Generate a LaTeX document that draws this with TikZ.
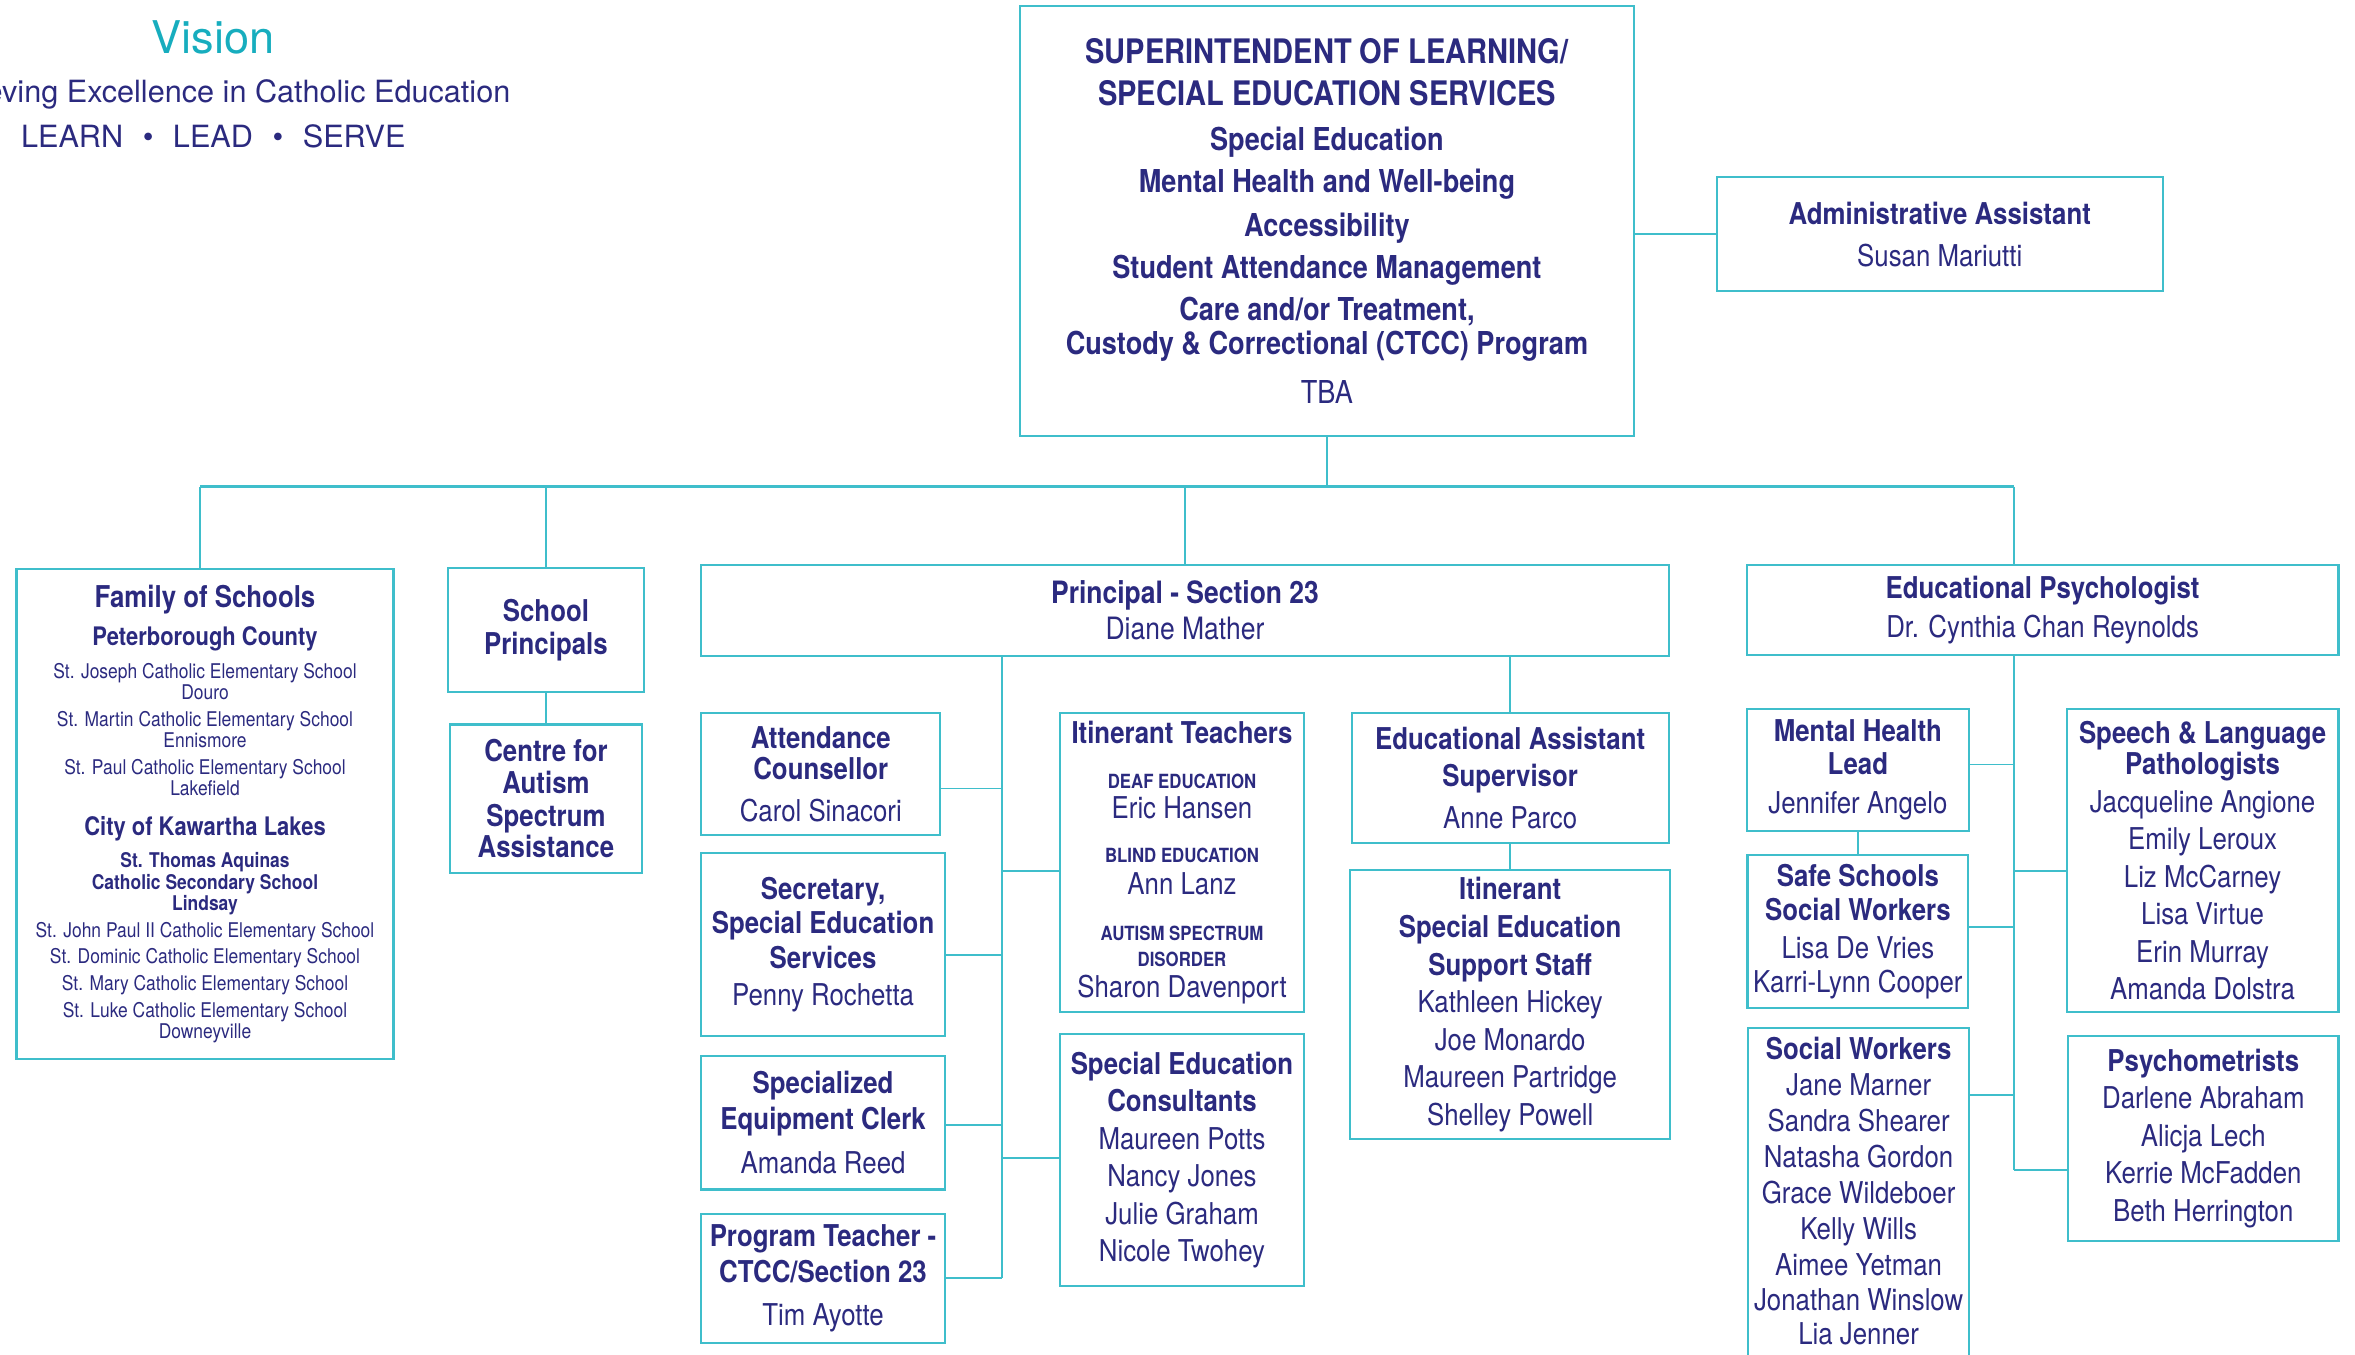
\documentclass[tikz,border=0pt]{standalone}
\usepackage{fontspec}
\setmainfont{TeX Gyre Heros}[FakeStretch=0.86]
\newfontfamily\visfont{TeX Gyre Heros}
\usetikzlibrary{positioning}
\definecolor{navy}{HTML}{2B2A7F}
\definecolor{lineC}{HTML}{3FBECB}
\definecolor{visC}{HTML}{17ADBE}
\newcommand\hd{\bfseries}
\newcommand\szf[2]{\fontsize{#1}{#2}\selectfont}

\begin{document}
\begin{tikzpicture}[x=1pt, y=-1pt,
        box/.style={draw=lineC, line width=1.4pt, inner sep=0pt, align=center, text=navy, font=\fontsize{20}{25}\selectfont},
        e/.style={draw=lineC, line width=1.2pt},
        bus/.style={draw=lineC, line width=1.8pt}]
        \useasboundingbox (0,0) rectangle (1568,902);

        % vision
        \node[text=visC, font=\visfont\fontsize{30}{30}\selectfont] (vis) at (142,25) {Vision};
        \node[text=navy, font=\visfont\fontsize{20.4}{21}\selectfont, anchor=east, inner sep=0pt] (mot) at (340,63) {Achieving Excellence in Catholic Education};
        \node[text=navy, font=\visfont\fontsize{20.4}{21}\selectfont] (lls) at (142,91) {LEARN\hspace{13pt}\textbullet\hspace{13pt}LEAD\hspace{13pt}\textbullet\hspace{13pt}SERVE};

        % top
        \node[box, minimum width=409pt, minimum height=286pt, font=\fontsize{21}{28}\selectfont] (sup) at (883.5,147) {
            \szf{22.5}{28}\hd SUPERINTENDENT OF LEARNING/\\
            \szf{22.5}{28}\hd SPECIAL EDUCATION SERVICES\\[2pt]
            \hd Special Education\\
            \hd Mental Health and Well-being\\[1pt]
            \hd Accessibility\\
            \hd Student Attendance Management\\
            \hd Care and/or Treatment,\\[-5pt]
            \hd Custody \& Correctional (CTCC) Program\\[4pt]
            TBA};
        \node[box, minimum width=297pt, minimum height=76pt] (adm) at (1291.5,156) {\hd Administrative Assistant\\[3pt] Susan Mariutti};

        % second row
        \node[box, minimum width=251pt, minimum height=326pt, font=\fontsize{13.5}{25}\selectfont] (fam) at (136.5,542) {
            \szf{20}{25}\hd Family of Schools\\
            \szf{17}{25}\hd Peterborough County\\[-3pt]
            St. Joseph Catholic Elementary School\\[-11pt]
            Douro\\[-7pt]
            St. Martin Catholic Elementary School\\[-11pt]
            Ennismore\\[-7pt]
            St. Paul Catholic Elementary School\\[-11pt]
            Lakefield\\[2pt]
            \szf{17}{25}\hd City of Kawartha Lakes\\[-4pt]
            \hd St. Thomas Aquinas\\[-10pt]
            \hd Catholic Secondary School\\[-11pt]
            \hd Lindsay\\[-7pt]
            St. John Paul II Catholic Elementary School\\[-8pt]
            St. Dominic Catholic Elementary School\\[-7pt]
            St. Mary Catholic Elementary School\\[-7pt]
            St. Luke Catholic Elementary School\\[-11pt]
            Downeyville};
        \node[box, minimum width=131pt, minimum height=83pt] (spr) at (363.5,419.5) {\hd School\\[-3pt]\hd Principals};
        \node[box, minimum width=128pt, minimum height=99pt, below=20pt of spr] (cas) {\hd Centre for\\[-4pt]\hd Autism\\[-3pt]\hd Spectrum\\[-4pt]\hd Assistance};
        \node[box, minimum width=644pt, minimum height=61pt, font=\fontsize{20.5}{25}\selectfont] (p23) at (789,406.5) {\hd Principal - Section 23\\[-1pt] Diane Mather};
        \node[box, minimum width=394pt, minimum height=60pt] (eps) at (1360,406) {\hd Educational Psychologist\\[1pt] Dr. Cynthia Chan Reynolds};

        % section 23
        \node[box, minimum width=159pt, minimum height=81pt] (att) at (546.5,515.5) {\hd Attendance\\[-4pt]\hd Counsellor\\[3pt] Carol Sinacori};
        \node[box, minimum width=162pt, minimum height=122pt] (sec) at (548,629) {\hd Secretary,\\[-2pt]\hd Special Education\\[-2pt]\hd Services\\ Penny Rochetta};
        \node[box, minimum width=162pt, minimum height=89pt] (eqp) at (548,747.5) {\hd Specialized\\[-1pt]\hd Equipment Clerk\\[4pt] Amanda Reed};
        \node[box, minimum width=162pt, minimum height=86pt] (prg) at (548,851) {\hd Program Teacher -\\[-1pt]\hd CTCC/Section 23\\[4pt] Tim Ayotte};
        \node[box, minimum width=162pt, minimum height=199pt] (itt) at (787,574.5) {
            \hd Itinerant Teachers\\[5pt]
            \szf{13}{25}\hd DEAF EDUCATION\\[-5pt]
            Eric Hansen\\[4pt]
            \szf{13}{25}\hd BLIND EDUCATION\\[-4pt]
            Ann Lanz\\[6pt]
            \szf{13}{25}\hd AUTISM SPECTRUM\\[-8pt]
            \szf{13}{25}\hd DISORDER\\[-4pt]
            Sharon Davenport};
        \node[box, minimum width=162pt, minimum height=168pt, below=13pt of itt] (con) {\hd Special Education\\\hd Consultants\\ Maureen Potts\\ Nancy Jones\\ Julie Graham\\ Nicole Twohey};
        \node[box, minimum width=211pt, minimum height=86pt] (eas) at (1005.5,518) {\hd Educational Assistant\\\hd Supervisor\\[3pt] Anne Parco};
        \node[box, minimum width=213pt, minimum height=179pt, below=17pt of eas] (iss) {\hd Itinerant\\\hd Special Education\\\hd Support Staff\\ Kathleen Hickey\\ Joe Monardo\\ Maureen Partridge\\ Shelley Powell};

        % psychology
        \node[box, minimum width=148pt, minimum height=81pt] (mhl) at (1237,512.5) {\hd Mental Health\\[-3pt]\hd Lead\\[1pt] Jennifer Angelo};
        \node[box, minimum width=147pt, minimum height=102pt, below=15pt of mhl] (ssw) {\hd Safe Schools\\[-2pt]\hd Social Workers\\ Lisa De Vries\\[-2pt] Karri-Lynn Cooper};
        \node[box, minimum width=147pt, minimum height=234pt, anchor=north] (sw) at (1237.5,684) {};
        \node[text=navy, align=center, inner sep=0pt, font=\fontsize{20}{24}\selectfont] (swt) at (1237.5,793) {\hd Social Workers\\ Jane Marner\\ Sandra Shearer\\ Natasha Gordon\\ Grace Wildeboer\\ Kelly Wills\\ Aimee Yetman\\[-1pt] Jonathan Winslow\\[-1pt] Lia Jenner};
        \node[box, minimum width=181pt, minimum height=202pt] (slp) at (1466.5,573) {\hd Speech \& Language\\[-4pt]\hd Pathologists\\ Jacqueline Angione\\ Emily Leroux\\ Liz McCarney\\ Lisa Virtue\\ Erin Murray\\ Amanda Dolstra};
        \node[box, minimum width=180pt, minimum height=136pt] (psy) at (1467,758) {\hd Psychometrists\\ Darlene Abraham\\ Alicja Lech\\ Kerrie McFadden\\ Beth Herrington};

        % connectors
        \coordinate (bL) at (133,324);
        \coordinate (bR) at (1341,324);
        \draw[bus] (bL) -- (bR);
        \draw[e] (bL) -- (bL |- fam.north);
        \draw[e] (bR) -- (bR |- eps.north);
        \draw[e] (sup.south) -- (sup.south |- bL);
        \draw[e] (spr.north) -- (spr.north |- bL);
        \draw[e] (p23.north) -- (p23.north |- bL);
        \draw[e] (adm.west) -- (adm.west -| sup.east);
        \draw[e] (spr.south) -- (spr.south |- cas.north);

        \coordinate (s23) at (667,851);
        \draw[e] (s23 |- p23.south) -- (s23);
        \foreach \n/\y in {att/525, sec/636, eqp/749, prg/851}
        \draw[e] (\n.east |- 0,\y) -- (s23 |- 0,\y);
        \foreach \n/\y in {itt/580, con/771}
        \draw[e] (s23 |- 0,\y) -- (\n.west |- 0,\y);
        \draw[e] (eas.north |- p23.south) -- (eas.north);
        \draw[e] (eas.south) -- (eas.south |- iss.north);

        \coordinate (sps) at (1341,779);
        \draw[e] (sps |- eps.south) -- (sps);
        \foreach \n/\y in {mhl/509, ssw/617, sw/729}
        \draw[e] (\n.east |- 0,\y) -- (sps |- 0,\y);
        \foreach \n/\y in {slp/580, psy/779}
        \draw[e] (sps |- 0,\y) -- (\n.west |- 0,\y);
        \draw[e] (mhl.south) -- (mhl.south |- ssw.north);
      \end{tikzpicture}
\end{document}
